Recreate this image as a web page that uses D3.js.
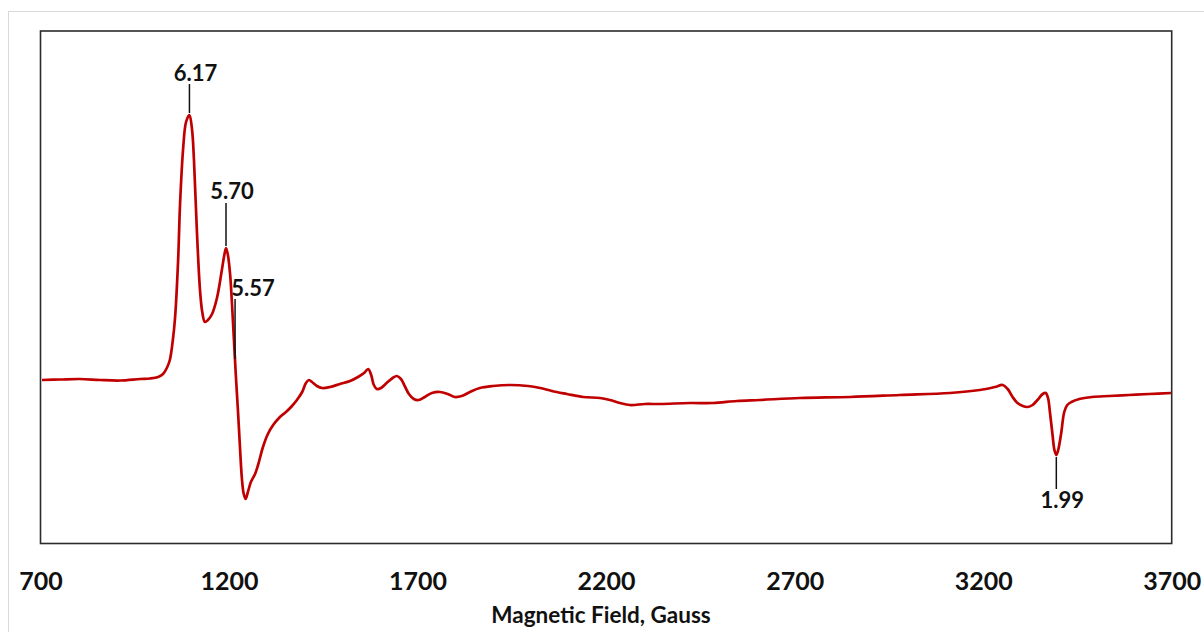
<!DOCTYPE html>
<html>
<head>
<meta charset="utf-8">
<script src="https://cdn.jsdelivr.net/npm/d3@7"></script>
<style>
  html, body { margin: 0; padding: 0; background: #ffffff; }
  svg { display: block; }
  text { font-family: Lato, "Open Sans", sans-serif; font-weight: 700; fill: #111; }
</style>
</head>
<body>
<svg id="chart" width="1204" height="632"></svg>
<script>
// EPR spectrum: magnetic field (Gauss) vs. derivative signal (arbitrary units)
const fieldGauss = [
  704, 752, 805, 858, 911, 964, 990, 1012, 1025, 1035, 1043, 1051, 1057, 1065, 1070,
  1078, 1086, 1095, 1102, 1107, 1115, 1123, 1129, 1136, 1144, 1155, 1168, 1181, 1187,
  1192, 1197, 1203, 1208, 1213, 1218, 1224, 1229, 1234, 1239, 1244, 1250, 1258, 1269,
  1277, 1290, 1303, 1317, 1335, 1351, 1367, 1380, 1394, 1404, 1412, 1420, 1433, 1447,
  1468, 1494, 1521, 1542, 1558, 1569, 1577, 1584, 1592, 1603, 1618, 1634, 1645, 1656,
  1666, 1677, 1690, 1703, 1719, 1738, 1759, 1780, 1799, 1817, 1839, 1865, 1900, 1945,
  1993, 2025, 2056, 2096, 2139, 2184, 2210, 2237, 2263, 2303, 2343, 2422, 2483, 2547,
  2608, 2714, 2847, 2979, 3112, 3191, 3231, 3252, 3265, 3278, 3291, 3305, 3318, 3331,
  3344, 3358, 3366, 3372, 3377, 3384, 3389, 3394, 3399, 3407, 3415, 3423, 3434, 3455,
  3489, 3534, 3587, 3640, 3698
];
const signal = [
  -10, -5, 0, -10, -15, 0, 5, 20, 50, 110, 190, 390, 620, 1190, 1740,
  2290, 2570, 2640, 2490, 2190, 1460, 890, 670, 570, 590, 650, 810, 1090, 1230,
  1310, 1240, 1040, 740, 390, 40, -340, -680, -990, -1150, -1200, -1130, -1030, -950,
  -860, -680, -550, -460, -380, -330, -270, -210, -130, -40, -10, -30, -70, -90,
  -80, -50, -20, 20, 60, 100, 40, -60, -100, -90, -40, 10, 30, 0,
  -70, -150, -200, -210, -180, -140, -130, -150, -180, -170, -130, -90, -70, -60,
  -70, -90, -120, -150, -180, -190, -210, -240, -260, -250, -250, -240, -240, -220,
  -210, -190, -180, -160, -140, -110, -80, -60, -100, -180, -240, -270, -280, -260,
  -210, -150, -140, -190, -330, -560, -710, -760, -710, -540, -330, -260, -230, -200,
  -180, -170, -160, -150, -140
];

// g-value annotations
const gLabels = ["6.17", "5.70", "5.57", "1.99"];
const gFields = [1095, 1192, 1216, 3394];

// x-axis ticks
const xTicks = [700, 1200, 1700, 2200, 2700, 3200, 3700];
const xTitle = "Magnetic Field, Gauss";

const svg = d3.select("#chart");

// frame
svg.append("rect")
  .attr("x", 8.5).attr("y", 11.5)
  .attr("width", 1300).attr("height", 700)
  .attr("fill", "none").attr("stroke", "#d9d9d9").attr("stroke-width", 1);

const plot = { left: 40.5, right: 1171.7, top: 31, bottom: 543.5 };

const x = d3.scaleLinear().domain([700, 3700]).range([plot.left, plot.right]);
const y = d3.scaleLinear().domain([-1650, 3480]).range([plot.bottom + 0.5, plot.top]);

const points = fieldGauss.map((g, i) => ({ g, v: signal[i] }));

const line = d3.line()
  .x(d => x(d.g))
  .y(d => y(d.v))
  .curve(d3.curveCatmullRom.alpha(0.5));

svg.append("path")
  .datum(points)
  .attr("d", line)
  .attr("fill", "none")
  .attr("stroke", "#c00000")
  .attr("stroke-width", 2.7)
  .attr("stroke-linejoin", "round");

// plot area border
svg.append("rect")
  .attr("x", plot.left).attr("y", plot.top)
  .attr("width", plot.right - plot.left).attr("height", plot.bottom - plot.top)
  .attr("fill", "none").attr("stroke", "#2b2b2b").attr("stroke-width", 1.6);

// x axis labels
const xAxis = d3.axisBottom(x).tickValues(xTicks).tickSize(0).tickPadding(0).tickFormat(d3.format("d"));
const gx = svg.append("g").attr("transform", `translate(0, ${plot.bottom})`).call(xAxis);
gx.select(".domain").remove();
gx.selectAll("text")
  .attr("y", 46.5).attr("dy", null)
  .style("font-family", "Lato, 'Open Sans', sans-serif")
  .style("font-weight", 700)
  .style("font-size", "25px")
  .attr("fill", "#111");

svg.append("text")
  .attr("x", 601).attr("y", 623)
  .attr("text-anchor", "middle")
  .style("font-size", "22.5px")
  .text(xTitle);

// interpolated signal at a given field, for leader lines
function signalAt(g) {
  const i = d3.bisector(d => d).right(fieldGauss, g);
  const i0 = Math.max(0, i - 1), i1 = Math.min(fieldGauss.length - 1, i);
  if (i0 === i1) return signal[i0];
  const t = (g - fieldGauss[i0]) / (fieldGauss[i1] - fieldGauss[i0]);
  return signal[i0] + t * (signal[i1] - signal[i0]);
}

// leader geometry: length (px, negative = above the trace), text offset
const leaderLen = [-31, -45, -62, 34];
const labelDx = [6, 6, 18, 6];
const labelGap = [3, 4, 3, 19];

const ann = svg.append("g");
gLabels.forEach((lab, i) => {
  const px = x(gFields[i]);
  const py = y(signalAt(gFields[i]));
  const start = py + (leaderLen[i] < 0 ? -2 : 2);
  const end = py + leaderLen[i];
  ann.append("line")
    .attr("x1", px).attr("x2", px)
    .attr("y1", start).attr("y2", end)
    .attr("stroke", "#111").attr("stroke-width", 1.5);
  const ty = leaderLen[i] < 0 ? end - labelGap[i] : end + labelGap[i];
  ann.append("text")
    .attr("x", px + labelDx[i]).attr("y", ty)
    .attr("text-anchor", "middle")
    .style("font-size", "22px")
    .text(lab);
});
</script>
</body>
</html>
